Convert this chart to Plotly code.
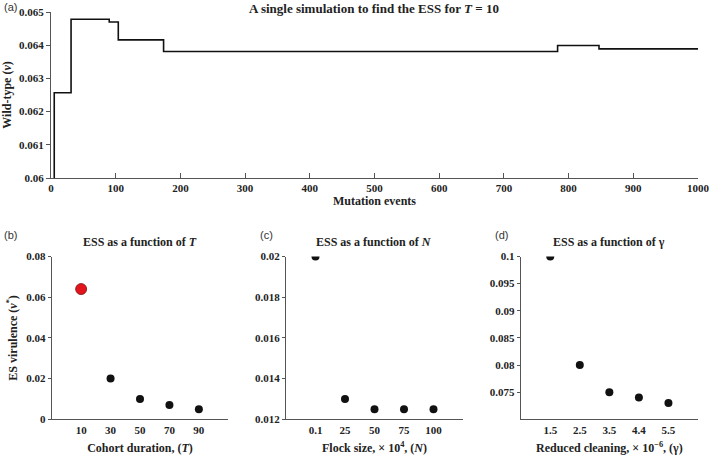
import plotly.graph_objects as go

# ---- data ----
mut_events = [5, 5, 31, 90, 104, 174, 783, 847, 1000]
wild_type_v = [0.0598, 0.06257, 0.06478, 0.0647, 0.06416, 0.06381, 0.06399, 0.06389, 0.06389]

T_labels = ["10", "30", "50", "70", "90"]
ess_T = [0.064, 0.02, 0.01, 0.007, 0.005]

N_labels = ["0.1", "25", "50", "75", "100"]
ess_N = [0.02, 0.013, 0.0125, 0.0125, 0.0125]

g_labels = ["1.5", "2.5", "3.5", "4.4", "5.5"]
ess_g = [0.1, 0.08, 0.075, 0.074, 0.073]

W, H = 709, 456
SERIF = "Liberation Serif"
SANS = "Liberation Sans"
tickfont = dict(family=SERIF, size=11, color="#222", weight="bold")
titlefont = dict(family=SERIF, size=12, color="#222", weight="bold")


def fx(px):
    return px / W


def fy(py):
    return 1 - py / H


fig = go.Figure()

# (a) step line
fig.add_trace(go.Scatter(x=mut_events, y=wild_type_v, mode="lines",
                         line=dict(color="#111", width=1.6, shape="hv"),
                         xaxis="x", yaxis="y", showlegend=False))

pos = [1, 2, 3, 4, 5]
fig.add_trace(go.Scatter(x=pos[1:], y=ess_T[1:], mode="markers", opacity=1,
                         marker=dict(color="#111", size=8, opacity=1),
                         xaxis="x2", yaxis="y2", showlegend=False))
fig.add_trace(go.Scatter(x=pos[:1], y=ess_T[:1], mode="markers", opacity=1,
                         marker=dict(color="#e3141c", size=11, opacity=1,
                                     line=dict(color="#7a1010", width=0.8)),
                         xaxis="x2", yaxis="y2", showlegend=False))
fig.add_trace(go.Scatter(x=pos, y=ess_N, mode="markers", opacity=1,
                         marker=dict(color="#111", size=8, opacity=1),
                         xaxis="x3", yaxis="y3", showlegend=False))
fig.add_trace(go.Scatter(x=pos, y=ess_g, mode="markers", opacity=1,
                         marker=dict(color="#111", size=8, opacity=1),
                         xaxis="x4", yaxis="y4", showlegend=False))

axis_common = dict(showline=True, linecolor="#555", linewidth=1, showgrid=False,
                   zeroline=False, tickfont=tickfont, tickcolor="#555",
                   title_font=titlefont, automargin=False, ticklabeloverflow="allow")

bot_dom = [fy(419.3), fy(256.5)]

fig.update_layout(
    width=W, height=H, margin=dict(l=0, r=0, t=0, b=0, autoexpand=False),
    plot_bgcolor="white", paper_bgcolor="white",
    xaxis=dict(domain=[fx(51), fx(698)], range=[0, 1000], tickvals=list(range(0, 1001, 100)),
               ticks="inside", ticklen=5, anchor="y",
               title=dict(text="Mutation events", standoff=1), **axis_common),
    yaxis=dict(domain=[fy(178), fy(12)], range=[0.06, 0.065],
               tickvals=[0.06, 0.061, 0.062, 0.063, 0.064, 0.065],
               ticktext=["0.06", "0.061", "0.062", "0.063", "0.064", "0.065"],
               ticks="outside", ticklen=4, anchor="x",
               title=dict(text="Wild-type (<i>v</i>)", standoff=4), **axis_common),
    xaxis2=dict(domain=[fx(51.7), fx(228.3)], range=[0, 6], tickvals=pos, ticktext=T_labels,
                ticks="", anchor="y2",
                title=dict(text="Cohort duration, (<i>T</i>)", standoff=9), **axis_common),
    yaxis2=dict(domain=bot_dom, range=[0, 0.08], tickvals=[0, 0.02, 0.04, 0.06, 0.08],
                ticktext=["0", "0.02", "0.04", "0.06", "0.08"], ticks="outside", ticklen=3,
                anchor="x2",
                title=dict(text="ES virulence (<i>v</i><sup>*</sup>)", standoff=6),
                **axis_common),
    xaxis3=dict(domain=[fx(286), fx(463)], range=[0, 6], tickvals=pos, ticktext=N_labels,
                ticks="", anchor="y3",
                title=dict(text="Flock size, × 10<sup>4</sup>, (<i>N</i>)", standoff=9), **axis_common),
    yaxis3=dict(domain=bot_dom, range=[0.012, 0.02],
                tickvals=[0.012, 0.014, 0.016, 0.018, 0.02],
                ticktext=["0.012", "0.014", "0.016", "0.018", "0.02"], ticks="outside", ticklen=3,
                anchor="x3", **axis_common),
    xaxis4=dict(domain=[fx(520.7), fx(698)], range=[0, 6], tickvals=pos, ticktext=g_labels,
                ticks="", anchor="y4",
                title=dict(text="Reduced cleaning, × 10<sup>−6</sup>, (γ)", standoff=9), **axis_common),
    yaxis4=dict(domain=bot_dom, range=[0.07, 0.1],
                tickvals=[0.075, 0.08, 0.085, 0.09, 0.095, 0.1],
                ticktext=["0.075", "0.08", "0.085", "0.09", "0.095", "0.1"], ticks="outside", ticklen=3,
                anchor="x4", **axis_common),
)

titles = [
    ("A single simulation to find the ESS for <i>T</i> = 10", 374.5, 8, 13),
    ("ESS as a function of <i>T</i>", 140, 242, 12),
    ("ESS as a function of <i>N</i>", 374.5, 242, 12),
    ("ESS as a function of γ", 609, 242, 12),
]
for txt, x, y, s in titles:
    fig.add_annotation(text=txt, x=fx(x), y=fy(y), xref="paper", yref="paper",
                       showarrow=False, xanchor="center", yanchor="middle",
                       font=dict(titlefont, size=s))

labels = [("(a)", 2, 7), ("(b)", 2, 235), ("(c)", 258, 235), ("(d)", 493, 235)]
for txt, x, y in labels:
    fig.add_annotation(text=txt, x=fx(x), y=fy(y), xref="paper", yref="paper",
                       showarrow=False, xanchor="left", yanchor="middle",
                       font=dict(family=SANS, size=11, color="#333"))

fig.write_html("out.html", config={"displayModeBar": False},
               post_script="document.body.style.margin='0';document.body.style.overflow='hidden';")
